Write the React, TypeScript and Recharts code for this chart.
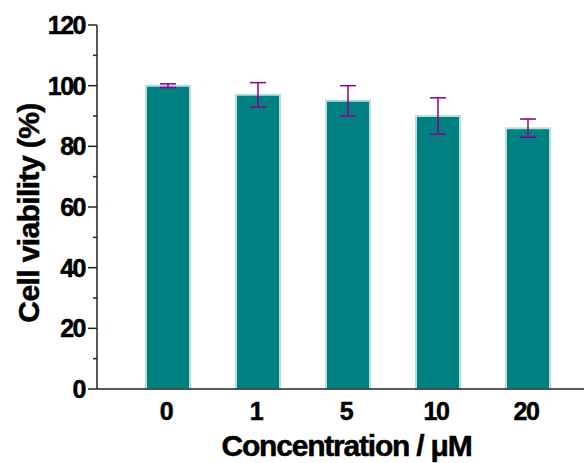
import React from "react";
import { BarChart, Bar, XAxis, YAxis, ErrorBar } from "recharts";

const concentrations = ["0", "1", "5", "10", "20"];
const viability = [100, 97, 95, 90, 86];
const viabilityErr = [0.6, 4, 5, 6, 3];
const yTicks = [0, 10, 20, 30, 40, 50, 60, 70, 80, 90, 100, 110, 120];

const data = concentrations.map((name, i) => ({
  name,
  value: viability[i],
  err: viabilityErr[i],
}));

const font = "'Liberation Sans', Arial, sans-serif";

const YTick = (props: any) => {
  const { x, y, payload } = props;
  const major = payload.value % 20 === 0;
  const axisX = x + 12;
  return (
    <g>
      <line
        x1={axisX - (major ? 9 : 4)}
        x2={axisX}
        y1={y}
        y2={y}
        stroke="#222"
        strokeWidth={1.5}
      />
      {major && (
        <text
          x={x}
          y={y}
          dy={9}
          textAnchor="end"
          fontFamily={font}
          fontWeight="bold"
          fontSize={25}
          letterSpacing={-1.5}
          stroke="#000"
          strokeWidth={0.5}
          fill="#000"
        >
          {payload.value}
        </text>
      )}
    </g>
  );
};

const App = () => {
  return (
    <div style={{ position: "absolute", left: 0, top: 0 }}>
      <BarChart
        width={584}
        height={463}
        data={data}
        margin={{ top: 25, right: 0, bottom: 0, left: 0 }}
      >
        <XAxis
          dataKey="name"
          height={74}
          padding={{ left: 26, right: 11 }}
          tickLine={false}
          tickSize={6}
          tickMargin={7}
          axisLine={{ stroke: "#222", strokeWidth: 1.5 }}
          tick={{
            fill: "#000",
            stroke: "#000",
            strokeWidth: 0.5,
            fontSize: 25,
            fontWeight: "bold",
            fontFamily: font,
            letterSpacing: -1.5,
            dx: -2,
          }}
          label={{
            content: ({ viewBox }: any) => (
              <text
                x={viewBox.x + viewBox.width / 2 + 6}
                y={viewBox.y + 67}
                textAnchor="middle"
                fontFamily={font}
                fontWeight="bold"
                fontSize={30}
                letterSpacing={-1.2}
                stroke="#000"
                strokeWidth={0.5}
                fill="#000"
              >
                Concentration / μM
              </text>
            ),
          }}
        />
        <YAxis
          width={97}
          domain={[0, 120]}
          ticks={yTicks}
          interval={0}
          tickLine={false}
          tickSize={9}
          tickMargin={3}
          axisLine={{ stroke: "#222", strokeWidth: 1.5 }}
          tick={<YTick />}
          label={{
            content: ({ viewBox }: any) => {
              const cx = 28;
              const cy = viewBox.y + viewBox.height / 2 + 6;
              return (
                <text
                  x={cx}
                  y={cy}
                  transform={`rotate(-90 ${cx} ${cy})`}
                  textAnchor="middle"
                  dominantBaseline="central"
                  fontFamily={font}
                  fontWeight="bold"
                  fontSize={30}
                  letterSpacing={-0.6}
                  stroke="#000"
                  strokeWidth={0.5}
                  fill="#000"
                >
                  Cell viability (%)
                </text>
              );
            },
          }}
        />
        <Bar
          dataKey="value"
          fill="#008080"
          stroke="#b8dede"
          strokeWidth={2}
          barSize={44}
          isAnimationActive={false}
        >
          <ErrorBar
            dataKey="err"
            width={8}
            stroke="#8b008b"
            strokeWidth={1.5}
            isAnimationActive={false}
          />
        </Bar>
      </BarChart>
    </div>
  );
};

export default App;
